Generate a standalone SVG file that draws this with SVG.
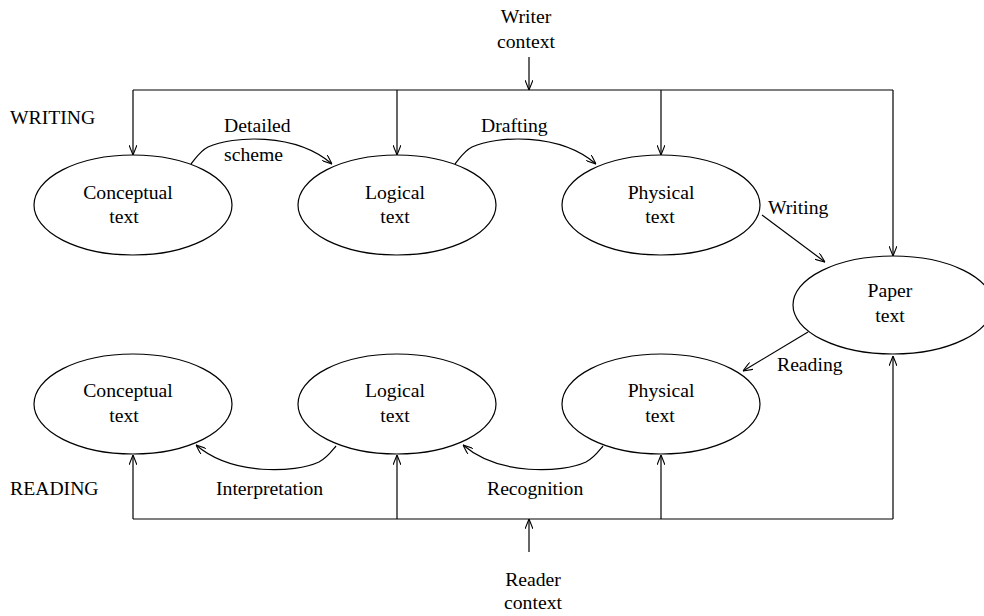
<svg xmlns="http://www.w3.org/2000/svg" width="984" height="616" viewBox="0 0 984 616">
<style>
text{font-family:"Liberation Serif","Times New Roman",serif;font-size:19.7px;fill:#000}
.c{text-anchor:middle}
ellipse{fill:none;stroke:#000;stroke-width:1.2}
.ln{fill:none;stroke:#000;stroke-width:1.2}
</style>
<defs>
<marker id="a" viewBox="0 0 10 8" refX="10" refY="4" markerWidth="10" markerHeight="8" markerUnits="userSpaceOnUse" orient="auto">
<path d="M0,0 L10,4 L0,8" fill="none" stroke="#000" stroke-width="1.1"/>
</marker>
</defs>
<rect width="984" height="616" fill="#fff"/>
<text x="10" y="124">WRITING</text>
<text x="10" y="495">READING</text>
<g id="writer-context"><text class="c" x="526" y="23">Writer</text><text class="c" x="526" y="48">context</text></g>
<g id="reader-context"><text class="c" x="533" y="586">Reader</text><text class="c" x="533" y="609">context</text></g>
<g id="w-conceptual"><ellipse cx="133" cy="205" rx="99" ry="50"/><text class="c" x="128" y="199">Conceptual</text><text class="c" x="124" y="223">text</text></g>
<g id="w-logical"><ellipse cx="397" cy="205" rx="99" ry="50"/><text class="c" x="395" y="199">Logical</text><text class="c" x="395" y="223">text</text></g>
<g id="w-physical"><ellipse cx="661" cy="205" rx="99" ry="50"/><text class="c" x="661" y="199">Physical</text><text class="c" x="660" y="223">text</text></g>
<g id="paper"><ellipse cx="893" cy="305" rx="100" ry="49"/><text class="c" x="890" y="297">Paper</text><text class="c" x="890" y="322">text</text></g>
<g id="r-conceptual"><ellipse cx="133" cy="404" rx="99" ry="50"/><text class="c" x="128" y="397">Conceptual</text><text class="c" x="124" y="422">text</text></g>
<g id="r-logical"><ellipse cx="397" cy="404" rx="99" ry="50"/><text class="c" x="395" y="397">Logical</text><text class="c" x="395" y="422">text</text></g>
<g id="r-physical"><ellipse cx="661" cy="404" rx="99" ry="50"/><text class="c" x="661" y="397">Physical</text><text class="c" x="660" y="422">text</text></g>
<g id="connectors">
<path class="ln" d="M133,90 H893"/>
<path class="ln" d="M529,57 V90" marker-end="url(#a)"/>
<path class="ln" d="M133,90 V155" marker-end="url(#a)"/>
<path class="ln" d="M397,90 V155" marker-end="url(#a)"/>
<path class="ln" d="M661,90 V155" marker-end="url(#a)"/>
<path class="ln" d="M893,90 V256" marker-end="url(#a)"/>
<path class="ln" d="M133,519 H893"/>
<path class="ln" d="M529,552 V519" marker-end="url(#a)"/>
<path class="ln" d="M133,519 V455" marker-end="url(#a)"/>
<path class="ln" d="M397,519 V455" marker-end="url(#a)"/>
<path class="ln" d="M661,519 V455" marker-end="url(#a)"/>
<path class="ln" d="M893,519 V356" marker-end="url(#a)"/>
<path class="ln" d="M191,164 C196,158 200,151 208,147 C232,136 295,132 332,164" marker-end="url(#a)"/>
<path class="ln" d="M455,164 C460,158 464,151 472,147 C496,136 559,132 596,164" marker-end="url(#a)"/>
<path class="ln" d="M336,446 C331,452 327,458 319,462 C295,473 232,476 196,445" marker-end="url(#a)"/>
<path class="ln" d="M603,446 C598,452 594,458 586,462 C562,473 499,476 463,445" marker-end="url(#a)"/>
<path class="ln" d="M762,215 L825,262" marker-end="url(#a)"/>
<path class="ln" d="M808,332 L743,371" marker-end="url(#a)"/>
<text x="224" y="132">Detailed</text>
<text x="224" y="161">scheme</text>
<text x="481" y="132">Drafting</text>
<text x="768" y="214">Writing</text>
<text x="777" y="371">Reading</text>
<text x="216" y="495">Interpretation</text>
<text x="487" y="495">Recognition</text>
</g>
</svg>
